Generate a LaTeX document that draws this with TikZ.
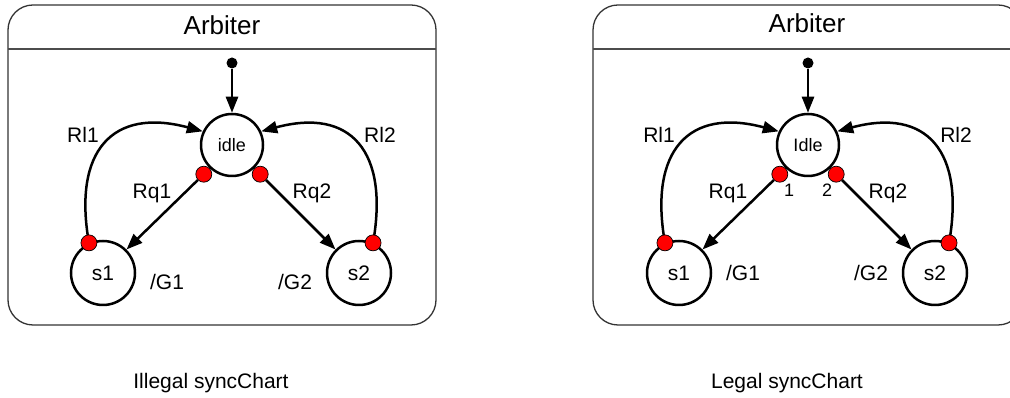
\documentclass[tikz,border=0pt]{standalone}
\usepackage{fontspec}
\setmainfont{Liberation Sans}
\usetikzlibrary{arrows.meta}
\newcommand{\lblfont}{\fontsize{21}{25}\selectfont}
\newcommand{\ttlfont}{\fontsize{26}{30}\selectfont}
\newcommand{\smlfont}{\fontsize{18}{21}\selectfont}
\tikzset{
        x=1pt, y=1pt,
        >={Triangle[length=16pt,width=12pt]},
        chart/.style = {draw=black!80, line width=1.3pt, rounded corners=25pt},
        state/.style = {circle, draw, line width=2.5pt, minimum size=64pt, inner sep=0pt, font=\lblfont},
        port/.style = {circle, draw, fill=red, line width=0.7pt, minimum size=16pt, inner sep=0pt},
        initdot/.style = {circle, fill=black, minimum size=11pt, inner sep=0pt},
        trans/.style = {->, line width=2.5pt},
        lbl/.style = {font=\lblfont, inner sep=0pt}
}
\begin{document}
\begin{tikzpicture}
        \useasboundingbox (0,0) rectangle (1010,398);
        \clip (0,0) rectangle (1010,398);

        % Illegal chart
        \draw [chart] (8,73) rectangle (436,393);
        \draw [draw=black!70, line width=1.3pt] (8,349) -- (436,349);
        \node [font=\ttlfont] (titleL) at (222,373) {Arbiter};
        \node [initdot] (initL) at (232,335) {};
        \node [state, minimum size=62pt, font=\smlfont] (idleL) at (232,253) {idle};
        \node [state] (s1L) at (103,125) {s1};
        \node [state] (s2L) at (359,125) {s2};
        \node [port, anchor=46] (q1L) at (idleL.226) {};
        \node [port, anchor=134] (q2L) at (idleL.314) {};

        \draw [trans] (initL) -- (idleL);
        \draw [trans] (q1L) -- (s1L.45);
        \draw [trans] (q2L) -- (s2L.135);
        \draw [trans] (s1L.115) to[out=100, in=165, looseness=1.5] (idleL.155);
        \draw [trans] (s2L.65) to[out=80, in=15, looseness=1.5] (idleL.25);
        \node [port] (r1L) at (s1L.115) {};
        \node [port] (r2L) at (s2L.65) {};

        \node [lbl] (rl1L) at (83,263) {Rl1};
        \node [lbl] (rl2L) at (380,263) {Rl2};
        \node [lbl] (rq1L) at (152,205) {Rq1};
        \node [lbl] (rq2L) at (312,205) {Rq2};
        \node [lbl] (g1L) at (167,116) {/G1};
        \node [lbl] (g2L) at (295,116) {/G2};
        \node [lbl] (capL) at (211,15) {Illegal syncChart};

        % Legal chart
        \draw [chart] (593,73) rectangle (1023,393);
        \draw [draw=black!70, line width=1.3pt] (593,349) -- (1023,349);
        \node [font=\ttlfont] (titleR) at (807,375) {Arbiter};
        \node [initdot] (initR) at (808,335) {};
        \node [state, minimum size=62pt, font=\smlfont] (idleR) at (808,253) {Idle};
        \node [state] (s1R) at (679,125) {s1};
        \node [state] (s2R) at (935,125) {s2};
        \node [port, anchor=46] (q1R) at (idleR.226) {};
        \node [port, anchor=134] (q2R) at (idleR.314) {};

        \draw [trans] (initR) -- (idleR);
        \draw [trans] (q1R) -- (s1R.45);
        \draw [trans] (q2R) -- (s2R.135);
        \draw [trans] (s1R.115) to[out=100, in=165, looseness=1.5] (idleR.155);
        \draw [trans] (s2R.65) to[out=80, in=15, looseness=1.5] (idleR.25);
        \node [port] (r1R) at (s1R.115) {};
        \node [port] (r2R) at (s2R.65) {};

        \node [font=\smlfont, inner sep=0pt] (n1R) at (789,208) {1};
        \node [font=\smlfont, inner sep=0pt] (n2R) at (827,208) {2};
        \node [lbl] (rl1R) at (659,263) {Rl1};
        \node [lbl] (rl2R) at (956,263) {Rl2};
        \node [lbl] (rq1R) at (728,205) {Rq1};
        \node [lbl] (rq2R) at (888,205) {Rq2};
        \node [lbl] (g1R) at (743,125) {/G1};
        \node [lbl] (g2R) at (871,125) {/G2};
        \node [lbl] (capR) at (787,15) {Legal syncChart};

\end{tikzpicture}
\end{document}
